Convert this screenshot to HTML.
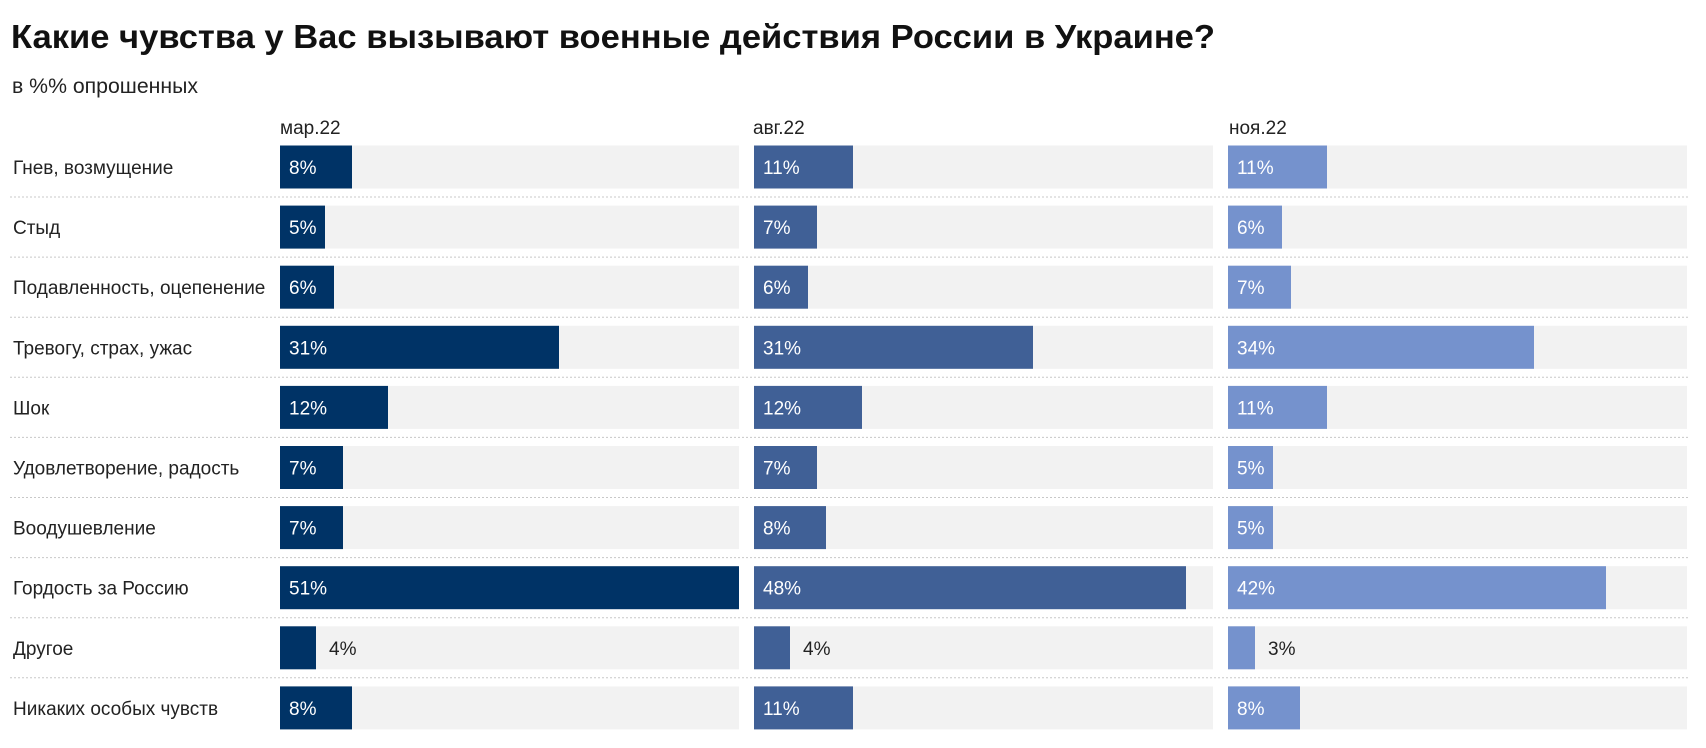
<!DOCTYPE html>
<html><head><meta charset="utf-8"><style>
html,body{margin:0;padding:0;background:#fff;}
svg{display:block;font-family:"Liberation Sans",sans-serif;}
</style></head><body>
<svg width="1706" height="748" viewBox="0 0 1706 748" xmlns="http://www.w3.org/2000/svg">
<text x="11" y="48" font-size="33" font-weight="bold" fill="#111" textLength="1204" lengthAdjust="spacingAndGlyphs">Какие чувства у Вас вызывают военные действия России в Украине?</text>
<text x="12" y="93" font-size="21" fill="#222" textLength="186" lengthAdjust="spacingAndGlyphs">в %% опрошенных</text>
<text x="280" y="134" font-size="19" fill="#222">мар.22</text>
<text x="753" y="134" font-size="19" fill="#222">авг.22</text>
<text x="1229" y="134" font-size="19" fill="#222">ноя.22</text>
<g id="rows"></g>
</svg>
<script>
var labels=["Гнев, возмущение","Стыд","Подавленность, оцепенение","Тревогу, страх, ужас","Шок","Удовлетворение, радость","Воодушевление","Гордость за Россию","Другое","Никаких особых чувств"];
var data=[[8,5,6,31,12,7,7,51,4,8],[11,7,6,31,12,7,8,48,4,11],[11,6,7,34,11,5,5,42,3,8]];
var xs=[280,754,1228],cols=["#003366","#406096","#7592cd"];
var g=document.getElementById("rows"),s="";
for(var i=0;i<10;i++){
 var y=145.5+60.1*i,h=43,ty=y+h/2+7;
 s+='<text x="13" y="'+ty+'" font-size="19" fill="#222">'+labels[i]+'</text>';
 if(i<9)s+='<line x1="10" x2="1688" y1="'+(y+51.5)+'" y2="'+(y+51.5)+'" stroke="#c8c8c8" stroke-width="1" stroke-dasharray="2,2"/>';
 for(var c=0;c<3;c++){
  var v=data[c][i],w=Math.min(459,v*9.0);
  s+='<rect x="'+xs[c]+'" y="'+y+'" width="459" height="'+h+'" fill="#f2f2f2"/>';
  s+='<rect x="'+xs[c]+'" y="'+y+'" width="'+w+'" height="'+h+'" fill="'+cols[c]+'"/>';
  if(v>=5)s+='<text x="'+(xs[c]+9)+'" y="'+ty+'" font-size="19" fill="#fff">'+v+'%</text>';
  else s+='<text x="'+(xs[c]+w+13)+'" y="'+ty+'" font-size="19" fill="#222">'+v+'%</text>';
 }
}
g.innerHTML=s;
</script>
</body></html>
